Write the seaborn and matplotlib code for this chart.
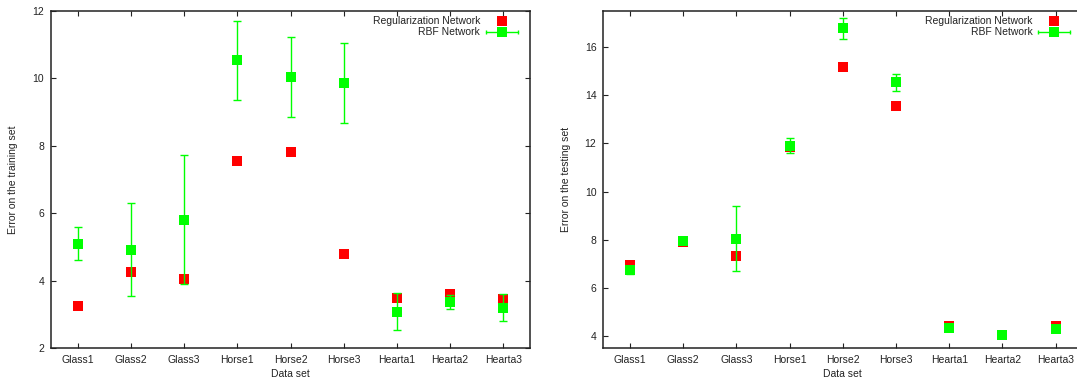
import matplotlib
matplotlib.use("Agg")
import matplotlib.pyplot as plt
import seaborn as sns
import pandas as pd

# Data sets on the x axis
datasets = ["Glass1", "Glass2", "Glass3", "Horse1", "Horse2", "Horse3",
            "Hearta1", "Hearta2", "Hearta3"]

# Error on the training set
reg_train = [3.25, 4.26, 4.05, 7.56, 7.83, 4.80, 3.48, 3.59, 3.46]
rbf_train = [5.09, 4.91, 5.81, 10.54, 10.04, 9.87, 3.08, 3.37, 3.20]
rbf_train_err = [0.49, 1.38, 1.92, 1.17, 1.18, 1.19, 0.54, 0.20, 0.39]

# Error on the testing set
reg_test = [6.95, 7.90, 7.32, 11.85, 15.17, 13.56, 4.40, 4.04, 4.43]
rbf_test = [6.74, 7.95, 8.04, 11.91, 16.78, 14.54, 4.35, 4.04, 4.30]
rbf_test_err = [0.15, 0.10, 1.36, 0.30, 0.44, 0.36, 0.10, 0.10, 0.10]

series_names = ["Regularization Network", "RBF Network"]
RED = "#ff0000"
GREEN = "#00ff00"

sns.set_theme(style="ticks")
plt.rcParams["font.family"] = ["Liberation Sans", "DejaVu Sans"]
plt.rcParams["font.size"] = 7.5

W, H = 1077, 380
fig = plt.figure(figsize=(W / 100, H / 100), dpi=100)

ax_w = 479 / W
ax_h = 337 / H
ax_b = (H - 348) / H
ax1 = fig.add_axes([51 / W, ax_b, ax_w, ax_h])
ax2 = fig.add_axes([603.3 / W, ax_b, ax_w, ax_h])

MS = 7.2  # marker side in points


def draw_panel(ax, reg, rbf, rbf_err, ylim, yticks, ylabel):
    df = pd.DataFrame({"dataset": datasets, "reg": reg, "rbf": rbf})
    sns.scatterplot(data=df, x="dataset", y="reg", marker="s", s=MS ** 2,
                    color=RED, linewidth=0, ax=ax, zorder=3)
    ax.errorbar(datasets, rbf, yerr=rbf_err, fmt="none", ecolor=GREEN,
                elinewidth=1.0, capsize=2.6, capthick=1.0, zorder=4)
    sns.scatterplot(data=df, x="dataset", y="rbf", marker="s", s=MS ** 2,
                    color=GREEN, linewidth=0, ax=ax, zorder=5)

    ax.set_xlim(-0.5, len(datasets) - 0.5)
    ax.set_ylim(*ylim)
    ax.set_yticks(yticks)
    ax.set_yticklabels([str(v) for v in yticks])
    ax.set_xlabel("Data set", fontsize=7.5, labelpad=3, color="#222222")
    ax.set_ylabel(ylabel, fontsize=7.5, color="#222222")
    ax.yaxis.set_label_coords(-0.068, 0.5)

    for sp in ax.spines.values():
        sp.set_visible(True)
        sp.set_color("#222222")
        sp.set_linewidth(1.1)
    ax.tick_params(direction="in", top=True, right=True, length=3.6,
                   width=0.8, colors="#222222", labelsize=7.5, pad=5)

    # key in the upper right corner, labels right-aligned
    tx, mx = 0.8956, 0.9415
    y1, y2 = 0.970, 0.937
    ax.text(tx, y1, series_names[0], transform=ax.transAxes, ha="right",
            va="center", fontsize=7.5, color="#222222")
    ax.text(tx, y2, series_names[1], transform=ax.transAxes, ha="right",
            va="center", fontsize=7.5, color="#222222")
    ax.plot([mx], [y1], "s", ms=MS, mew=0, color=RED,
            transform=ax.transAxes, clip_on=False, zorder=6)
    ax.plot([0.908, 0.975], [y2, y2], "-", lw=1.0, color=GREEN,
            transform=ax.transAxes, clip_on=False, zorder=6)
    ax.plot([0.908, 0.975], [y2, y2], "|", ms=3.5, mew=1.0, color=GREEN,
            transform=ax.transAxes, clip_on=False, zorder=6)
    ax.plot([mx], [y2], "s", ms=MS, mew=0, color=GREEN,
            transform=ax.transAxes, clip_on=False, zorder=7)


draw_panel(ax1, reg_train, rbf_train, rbf_train_err, (2, 12),
           [2, 4, 6, 8, 10, 12], "Error on the training set")
draw_panel(ax2, reg_test, rbf_test, rbf_test_err, (3.5, 17.5),
           [4, 6, 8, 10, 12, 14, 16], "Error on the testing set")

fig.savefig("out.png", dpi=100)
